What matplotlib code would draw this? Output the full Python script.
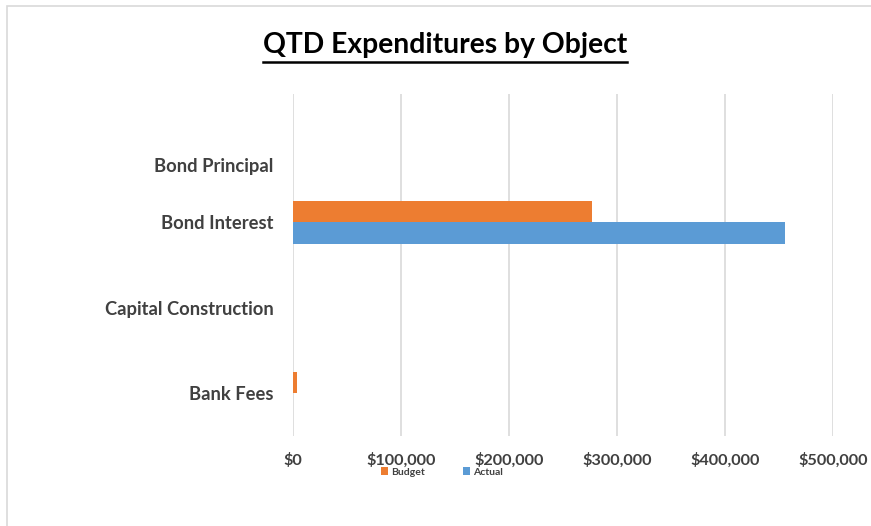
import matplotlib
matplotlib.use("Agg")
import matplotlib.pyplot as plt
import matplotlib.transforms as mtransforms
import numpy as np
from matplotlib.lines import Line2D
from matplotlib.patches import Rectangle

categories = ["Bank Fees", "Capital Construction", "Bond Interest", "Bond Principal"]
budget = [3400, 0, 277000, 0]
actual = [0, 0, 455500, 0]
xticks = [0, 100000, 200000, 300000, 400000, 500000]

orange = "#ED7D31"
blue = "#5B9BD5"
text_col = "#404040"

plt.rcParams["font.family"] = ["Lato", "DejaVu Sans"]

fig = plt.figure(figsize=(8.71, 5.26), dpi=100)
W, H = 871, 526

# outer chart border
fig.patches.append(Rectangle((7 / W, -0.1), 1.2, 1.1 - 6 / H,
                             transform=fig.transFigure, fill=False,
                             edgecolor="#D9D9D9", linewidth=1.2))

ax = fig.add_axes([293 / W, (H - 436) / H, (833 - 293) / W, (436 - 94) / H])

y = np.arange(len(categories))
h = 0.25
ax.barh(y + h / 2, budget, height=h, color=orange, label="Budget")
ax.barh(y - h / 2, actual, height=h, color=blue, label="Actual")

ax.set_xlim(0, 500000)
ax.set_ylim(-0.5, len(categories) - 0.5)
ax.set_xticks(xticks)
ax.set_xticklabels(["${:,.0f}".format(v) for v in xticks])
ax.set_yticks(y)
ax.set_yticklabels(categories)
for lab in ax.get_xticklabels():
    lab.set_fontweight("bold")
    lab.set_fontsize(11.7)
    lab.set_color(text_col)
for lab in ax.get_yticklabels():
    lab.set_fontweight("bold")
    lab.set_fontsize(13.2)
    lab.set_color(text_col)
ax.tick_params(axis="both", length=0)
ax.tick_params(axis="x", pad=12)
ax.tick_params(axis="y", pad=14)

# top category label sits lower in the band
top = ax.get_yticklabels()[-1]
top.set_transform(top.get_transform() +
                  mtransforms.ScaledTranslation(0, -28 / 100, fig.dpi_scale_trans))

ax.grid(axis="x", color="#D9D9D9", linewidth=1.2)
ax.set_axisbelow(True)
for s in ax.spines.values():
    s.set_visible(False)

# title with underline
title = fig.text(445 / W, 1 - 45 / H, "QTD Expenditures by Object", ha="center",
                 va="center", fontsize=20.3, fontweight="bold", color="black")
fig.canvas.draw()
bb = title.get_window_extent().transformed(fig.transFigure.inverted())
fig.lines.append(Line2D([bb.x0, bb.x1], [1 - 62 / H, 1 - 62 / H],
                        transform=fig.transFigure, color="black", linewidth=1.8))

handles, labels = ax.get_legend_handles_labels()
leg = fig.legend(handles, labels, loc="center", bbox_to_anchor=(442 / W, 1 - 472 / H),
                 ncol=2, frameon=False, fontsize=7.5, handlelength=0.7, handleheight=0.7,
                 handletextpad=0.3, columnspacing=3.6, labelcolor=text_col)
for t in leg.get_texts():
    t.set_fontweight("bold")

fig.savefig("out.png", dpi=100)
